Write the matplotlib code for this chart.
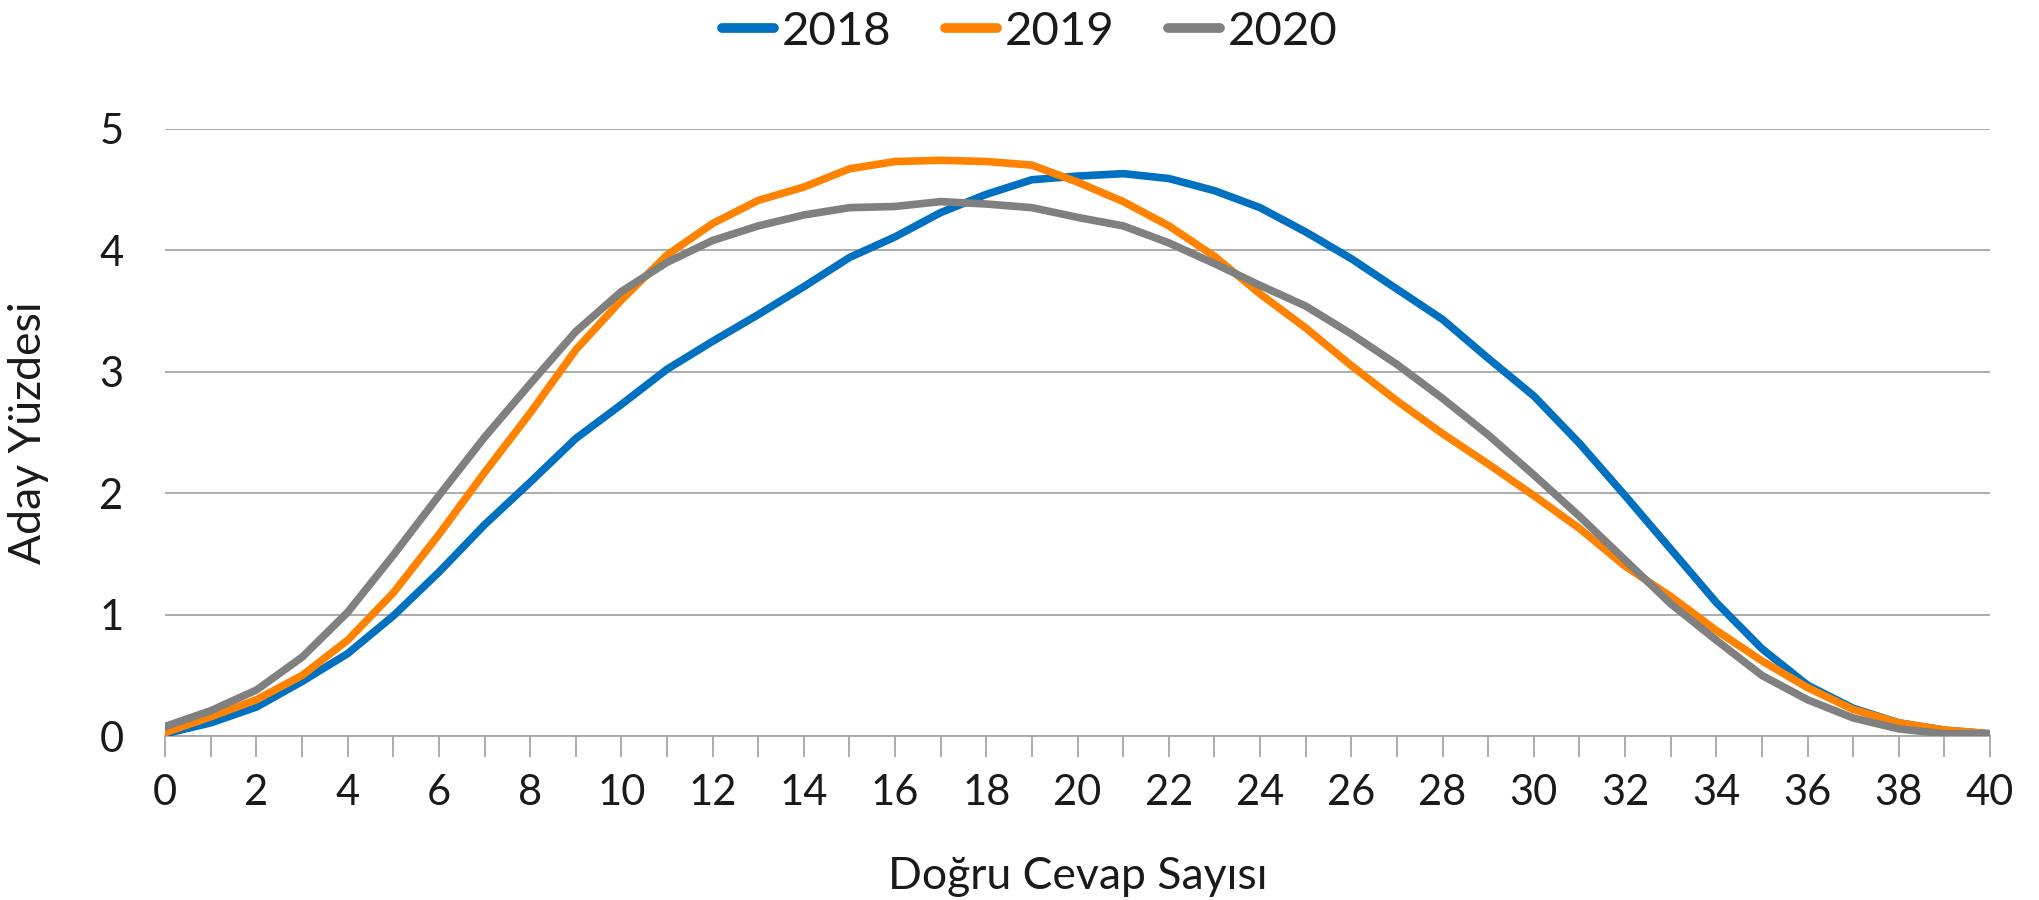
import matplotlib
matplotlib.use("Agg")
import matplotlib.pyplot as plt
import numpy as np

x = list(range(0, 41))
y2018 = [0.02, 0.11, 0.24, 0.45, 0.68, 0.99, 1.35, 1.74, 2.09, 2.45,
         2.73, 3.02, 3.25, 3.47, 3.70, 3.94, 4.11, 4.31, 4.46, 4.58,
         4.61, 4.63, 4.59, 4.49, 4.35, 4.15, 3.93, 3.68, 3.43, 3.11,
         2.80, 2.41, 1.98, 1.54, 1.10, 0.72, 0.42, 0.23, 0.11, 0.05, 0.02]
y2019 = [0.03, 0.16, 0.30, 0.50, 0.79, 1.18, 1.66, 2.17, 2.66, 3.18,
         3.59, 3.96, 4.22, 4.41, 4.52, 4.67, 4.73, 4.74, 4.73, 4.70,
         4.56, 4.40, 4.20, 3.95, 3.64, 3.36, 3.05, 2.76, 2.49, 2.24,
         1.98, 1.71, 1.40, 1.15, 0.87, 0.62, 0.40, 0.22, 0.11, 0.05, 0.02]
y2020 = [0.08, 0.21, 0.38, 0.65, 1.02, 1.49, 1.98, 2.46, 2.90, 3.33,
         3.66, 3.90, 4.08, 4.20, 4.29, 4.35, 4.36, 4.40, 4.38, 4.35,
         4.27, 4.20, 4.06, 3.89, 3.71, 3.54, 3.31, 3.06, 2.78, 2.48,
         2.15, 1.81, 1.45, 1.09, 0.79, 0.50, 0.30, 0.15, 0.06, 0.02, 0.02]
series_labels = ["2018", "2019", "2020"]
colors = ["#0070C0", "#FF8300", "#808080"]
xlabel = "Doğru Cevap Sayısı"
ylabel = "Aday Yüzdesi"

plt.rcParams['font.family'] = ['Lato', 'DejaVu Sans']
txt = '#1a1a1a'

fig = plt.figure(figsize=(20.39, 9.0), dpi=100)
ax = fig.add_axes([0.081, 0.182, 0.895, 0.675])

for ys, lab, c in zip([y2018, y2019, y2020], series_labels, colors):
    ax.plot(x, ys, color=c, lw=5.5, label=lab, solid_joinstyle='round', zorder=3)

ax.set_xlim(0, 40)
ax.set_ylim(0, 5)
ax.set_yticks(range(0, 6))
ax.set_xticks(range(0, 41, 2))
ax.set_xticks(range(0, 41), minor=True)
ax.grid(axis='y', color='#a6a6a6', lw=1.3)
ax.set_axisbelow(True)
for s in ['top', 'right', 'left']:
    ax.spines[s].set_visible(False)
ax.spines['bottom'].set_color('#a6a6a6')
ax.spines['bottom'].set_linewidth(1.3)
ax.tick_params(axis='y', length=0, pad=30, labelsize=30, labelcolor=txt)
ax.tick_params(axis='x', which='both', length=15, width=1.3, color='#a6a6a6',
               pad=12, labelsize=30, labelcolor=txt)
ax.tick_params(axis='x', which='minor', labelbottom=False)

ax.set_xlabel(xlabel, fontsize=32, color=txt, labelpad=32)
ax.set_ylabel(ylabel, fontsize=32, color=txt, labelpad=36)

leg = fig.legend(loc='upper center', bbox_to_anchor=(0.505, 1.035), ncol=3, frameon=False,
                 handlelength=1.1, handletextpad=0.15, columnspacing=1.15,
                 prop={'size': 34}, labelcolor=txt)
for h in leg.get_lines():
    h.set_linewidth(7)
    h.set_solid_capstyle('round')

fig.savefig("out.png", dpi=100)
